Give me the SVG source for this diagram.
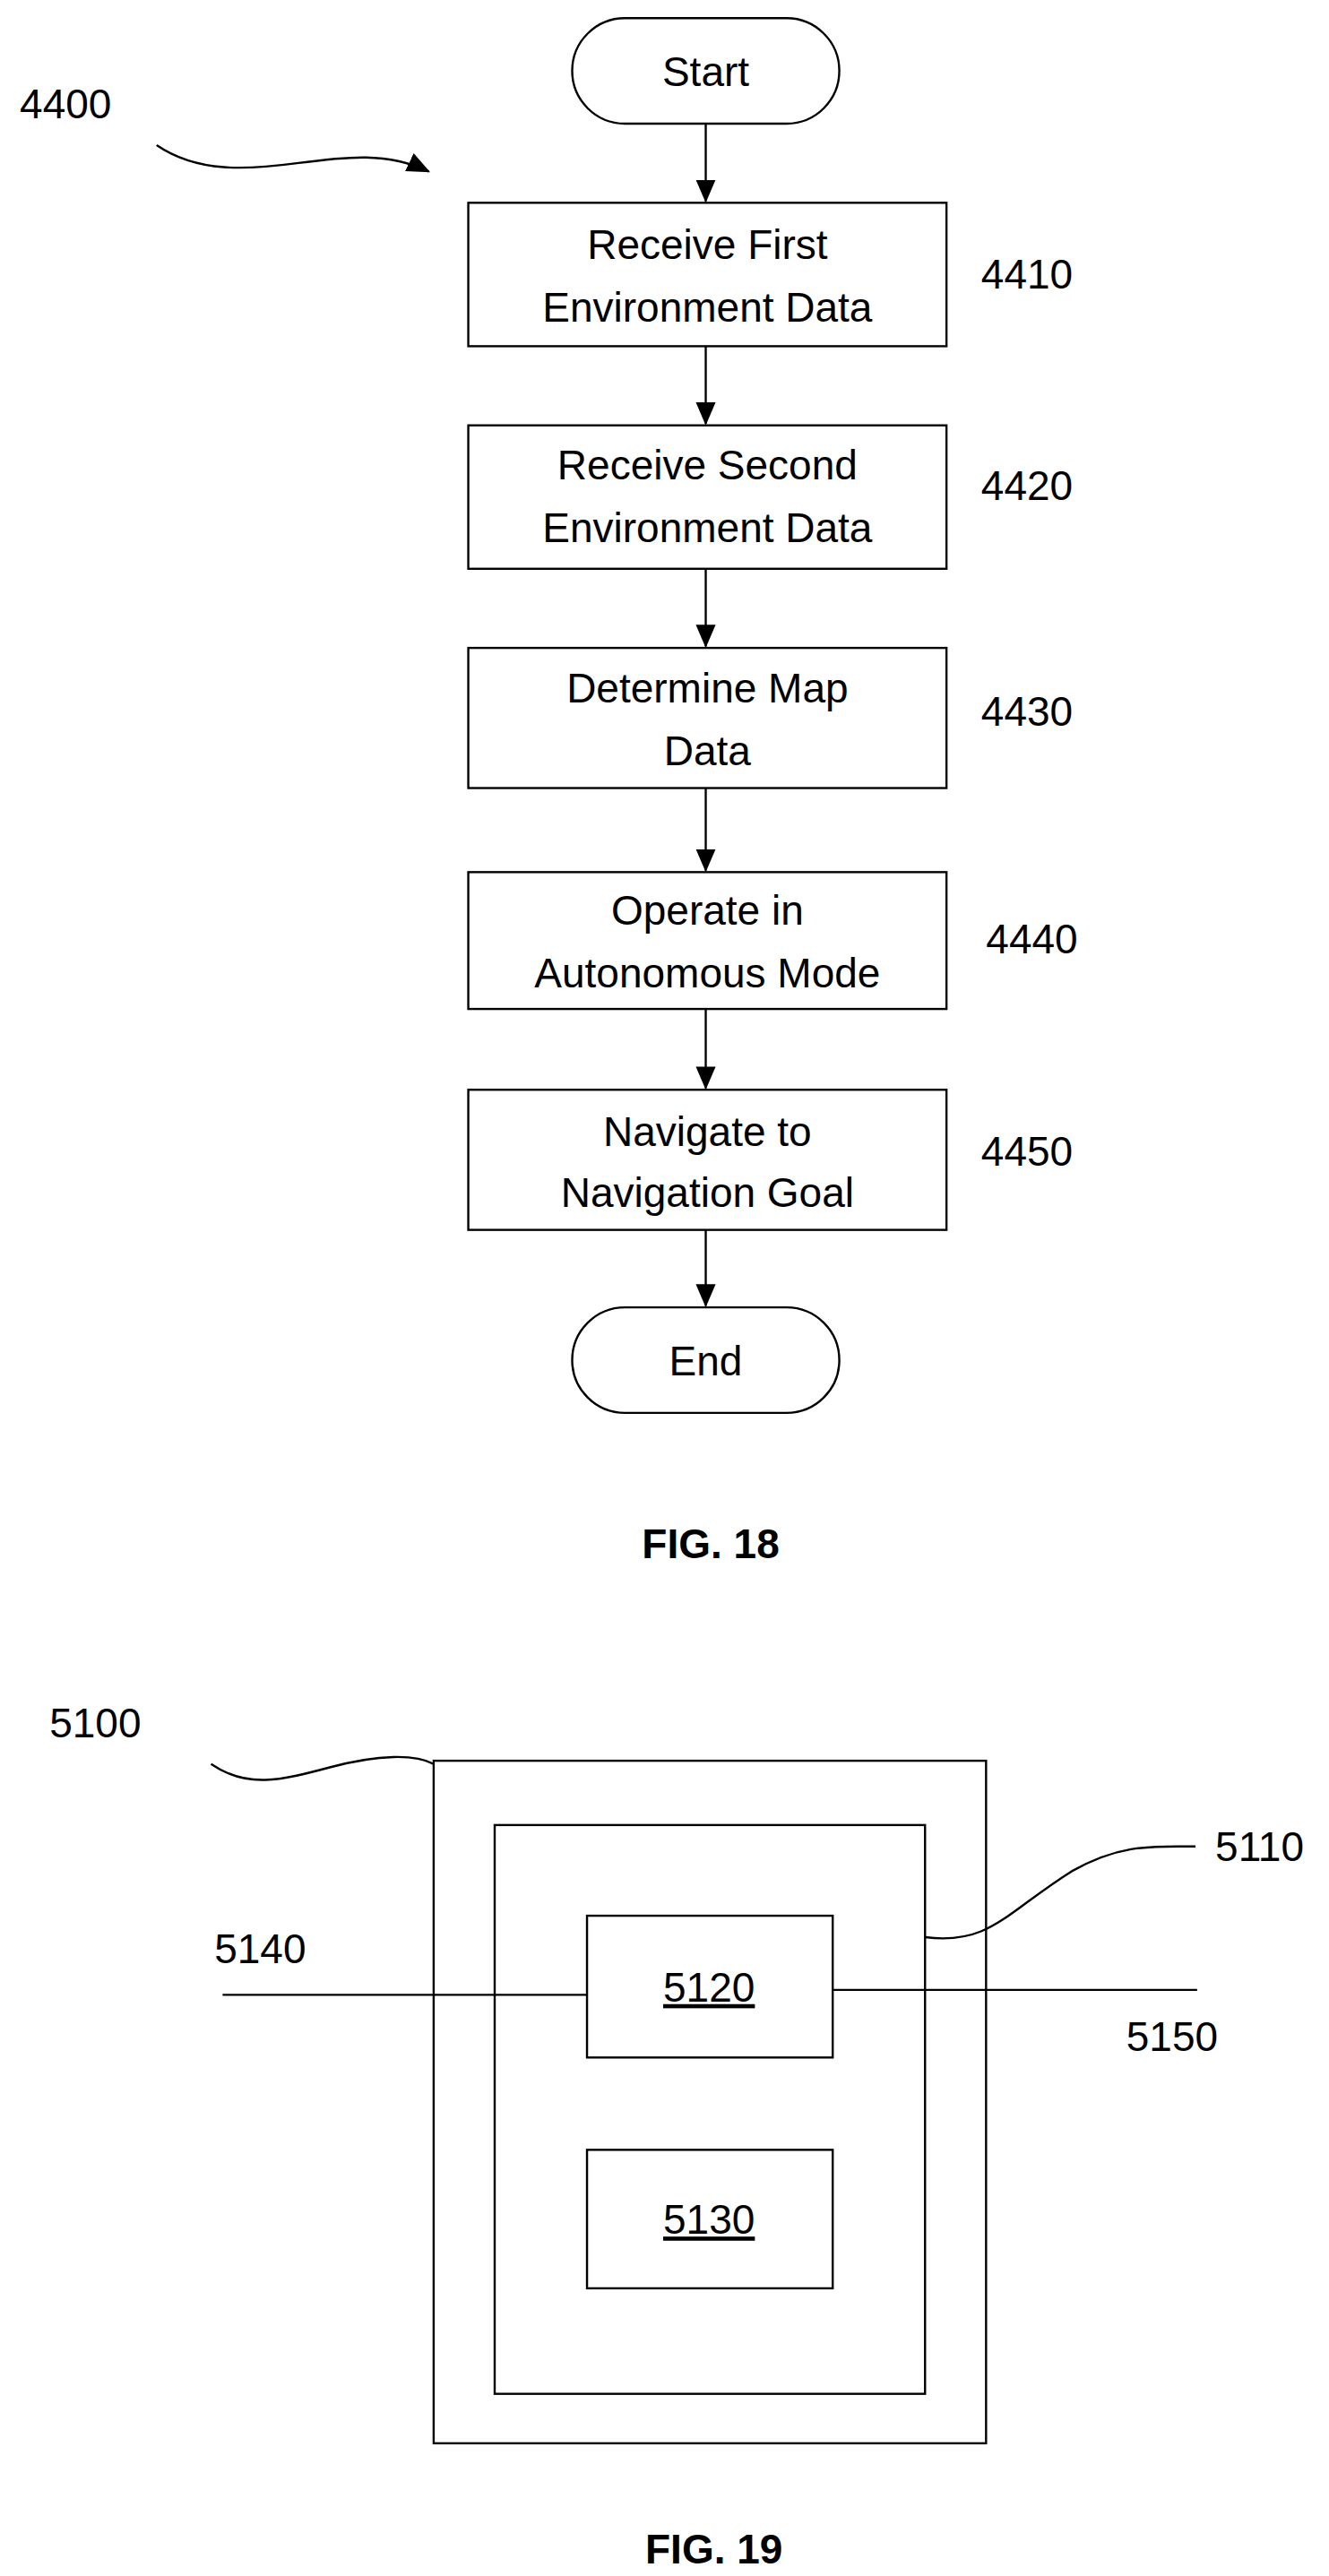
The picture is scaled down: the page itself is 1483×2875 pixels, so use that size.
<svg xmlns="http://www.w3.org/2000/svg" width="1483" height="2875" viewBox="0 0 1483 2875">
<style>
.s{fill:#fff;stroke:#000;stroke-width:1.3}
.l{fill:none;stroke:#000;stroke-width:1.3}
.t{font-family:"Liberation Sans",Arial,sans-serif;font-size:25px;fill:#000;text-anchor:middle}
.n{font-family:"Liberation Sans",Arial,sans-serif;font-size:25px;fill:#000}
.f{font-family:"Liberation Sans",Arial,sans-serif;font-size:25px;font-weight:bold;fill:#000;text-anchor:middle}
</style>
<defs><marker id="a" markerWidth="14" markerHeight="12" refX="13" refY="6" orient="auto" markerUnits="userSpaceOnUse"><path d="M0,0 L14,6 L0,12 z" fill="#000"/></marker></defs>
<rect width="1483" height="2875" fill="#fff"/>
<g transform="scale(1.84)">
<g id="connectors">
<path class="l" d="M428,75 V122" marker-end="url(#a)"/>
<path class="l" d="M428,210 V257" marker-end="url(#a)"/>
<path class="l" d="M428,345 V392" marker-end="url(#a)"/>
<path class="l" d="M428,478 V528" marker-end="url(#a)"/>
<path class="l" d="M428,612 V660" marker-end="url(#a)"/>
<path class="l" d="M428,746 V792" marker-end="url(#a)"/>
<path class="l" d="M95,88 C120,105 150,103 180,99 C210,95 235,92 260,104" marker-end="url(#a)"/>
<path class="l" d="M128,1070 C150,1085 170,1080 200,1072 C230,1064 252,1064 263,1070"/>
<path class="l" d="M561,1175 C600,1180 610,1160 650,1135 C680,1118 700,1120 725,1120"/>
<path class="l" d="M135,1210 H356"/>
<path class="l" d="M505,1207 H726"/>
</g>
<text class="n" x="12" y="72">4400</text>
<g id="start"><rect class="s" x="347" y="11" width="162" height="64" rx="32"/><text class="t" x="428" y="52">Start</text></g>
<g id="n4410"><rect class="s" x="284" y="123" width="290" height="87"/><text class="t" x="429" y="157">Receive First</text><text class="t" x="429" y="195">Environment Data</text><text class="n" x="595" y="175">4410</text></g>
<g id="n4420"><rect class="s" x="284" y="258" width="290" height="87"/><text class="t" x="429" y="291">Receive Second</text><text class="t" x="429" y="329">Environment Data</text><text class="n" x="595" y="303">4420</text></g>
<g id="n4430"><rect class="s" x="284" y="393" width="290" height="85"/><text class="t" x="429" y="426">Determine Map</text><text class="t" x="429" y="464">Data</text><text class="n" x="595" y="440">4430</text></g>
<g id="n4440"><rect class="s" x="284" y="529" width="290" height="83"/><text class="t" x="429" y="561">Operate in</text><text class="t" x="429" y="599">Autonomous Mode</text><text class="n" x="598" y="578">4440</text></g>
<g id="n4450"><rect class="s" x="284" y="661" width="290" height="85"/><text class="t" x="429" y="695">Navigate to</text><text class="t" x="429" y="732">Navigation Goal</text><text class="n" x="595" y="707">4450</text></g>
<g id="end"><rect class="s" x="347" y="793" width="162" height="64" rx="32"/><text class="t" x="428" y="834">End</text></g>
<text class="f" x="431" y="945">FIG. 18</text>
<g id="n5100"><rect class="l" x="263" y="1068" width="335" height="414"/><text class="n" x="30" y="1054">5100</text></g>
<g id="n5110"><rect class="l" x="300" y="1107" width="261" height="345"/><text class="n" x="737" y="1129">5110</text></g>
<g id="n5120"><rect class="l" x="356" y="1162" width="149" height="86"/><text class="t" x="430" y="1214" text-decoration="underline">5120</text></g>
<g id="n5130"><rect class="l" x="356" y="1304" width="149" height="84"/><text class="t" x="430" y="1355" text-decoration="underline">5130</text></g>
<text class="n" x="130" y="1191">5140</text>
<text class="n" x="683" y="1244">5150</text>
<text class="f" x="433" y="1555">FIG. 19</text>
</g>
</svg>
